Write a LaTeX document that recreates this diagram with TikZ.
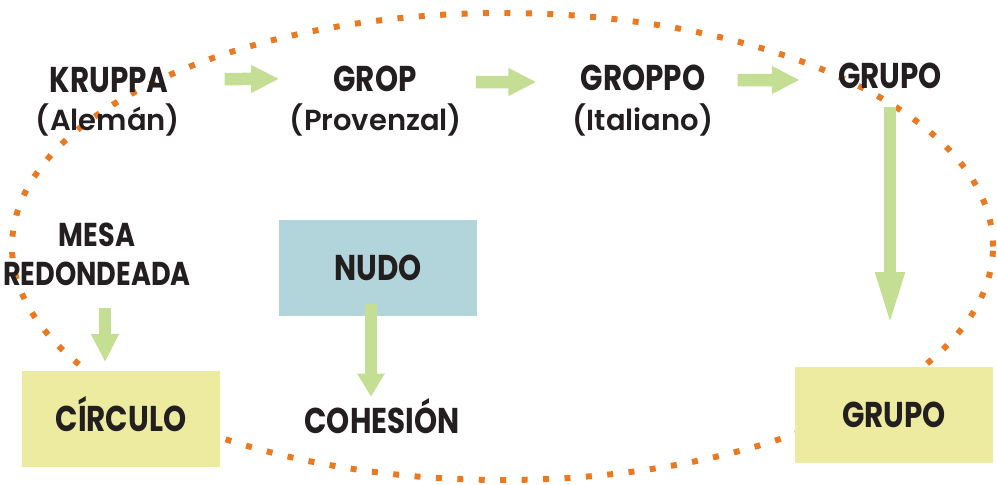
\documentclass[tikz,border=0pt]{standalone}
\usepackage{fontspec}
\setmainfont{Poppins}
\newfontfamily\capsfont{Poppins}[UprightFont=* Bold, FakeStretch=0.82]
\newfontfamily\parfont{Poppins}[UprightFont=* SemiBold]
\usetikzlibrary{arrows.meta}
\definecolor{punto}{HTML}{E97A22}
\definecolor{verde}{HTML}{C4DE94}
\definecolor{amarillo}{HTML}{EDEBA0}
\definecolor{azul}{HTML}{B1D5DA}
\definecolor{tinta}{HTML}{231F20}
\tikzset{
  palabra/.style={font=\capsfont\fontsize{20.4}{24}\selectfont, text=tinta,
    inner sep=0pt, text height=0.5cm, text depth=0pt, anchor=base},
  chica/.style={palabra, font=\capsfont\fontsize{18.8}{22}\selectfont, text height=0.46cm},
  idioma/.style={font=\parfont\fontsize{16.5}{20}\selectfont, text=tinta,
    inner sep=0pt, anchor=base},
  caja/.style={palabra, anchor=center, minimum width=3.96cm, minimum height=1.92cm},
  flecha/.style={draw=verde, line width=0.25cm, -{Triangle[length=0.56cm,width=0.52cm]}},
}

\begin{document}
\begin{tikzpicture}[]
\useasboundingbox (0,0) rectangle (19.94,-9.70);

% dotted ellipse behind everything
\draw[punto, line width=3.4pt, dash pattern=on 3.4pt off 8.8pt]
  (10.05,-4.93) ellipse [x radius=9.81, y radius=4.67];

\node[palabra] (kruppa) at (2.18,-1.84) {KRUPPA};
\node[idioma] (aleman) at (2.16,-2.60) {(Alemán)};
\node[palabra] (grop) at (7.50,-1.82) {GROP};
\node[idioma] (provenzal) at (7.52,-2.60) {(Provenzal)};
\node[palabra] (groppo) at (12.86,-1.80) {GROPPO};
\node[idioma] (italiano) at (12.86,-2.60) {(Italiano)};
\node[palabra] (grupo) at (17.80,-1.76) {GRUPO};

\node[chica] (mesa) at (1.94,-4.92) {MESA};
\node[chica] (redond) at (1.94,-5.70) {REDONDEADA};
\node[caja, fill=amarillo] (circulo) at (2.42,-8.37) {CÍRCULO};

\node[caja, fill=azul] (nudo) at (7.56,-5.36) {NUDO};
\node[palabra] (cohesion) at (7.64,-8.66) {COHESIÓN};

\node[caja, fill=amarillo] (grupob) at (17.88,-8.29) {GRUPO};

\draw[flecha, shorten <=1.12cm, shorten >=1.08cm] (kruppa) -- (grop);
\draw[flecha, shorten <=1.18cm, shorten >=0.88cm]
  ([yshift=-0.07cm]grop.east) -- ([yshift=-0.09cm]groppo.west);
\draw[flecha, shorten <=0.64cm, shorten >=0.76cm]
  ([yshift=-0.05cm]groppo.east) -- ([yshift=-0.09cm]grupo.west);
\draw[flecha, -{Triangle[length=1.1cm,width=0.52cm]}, shorten <=0.38cm, shorten >=0.78cm]
  (grupo.south) -- (grupo.south |- grupob.north);
\draw[flecha, shorten <=0.46cm, shorten >=0.16cm]
  ([xshift=0.16cm]redond.south) -- ([xshift=0.16cm]redond.south |- circulo.north);
\draw[flecha, -{Triangle[length=0.46cm,width=0.52cm]}, shorten <=-0.24cm, shorten >=0.22cm]
  ([xshift=-0.14cm]nudo.south) -- ([xshift=-0.14cm]nudo.south |- cohesion.north);% over the box

\end{tikzpicture}
\end{document}
